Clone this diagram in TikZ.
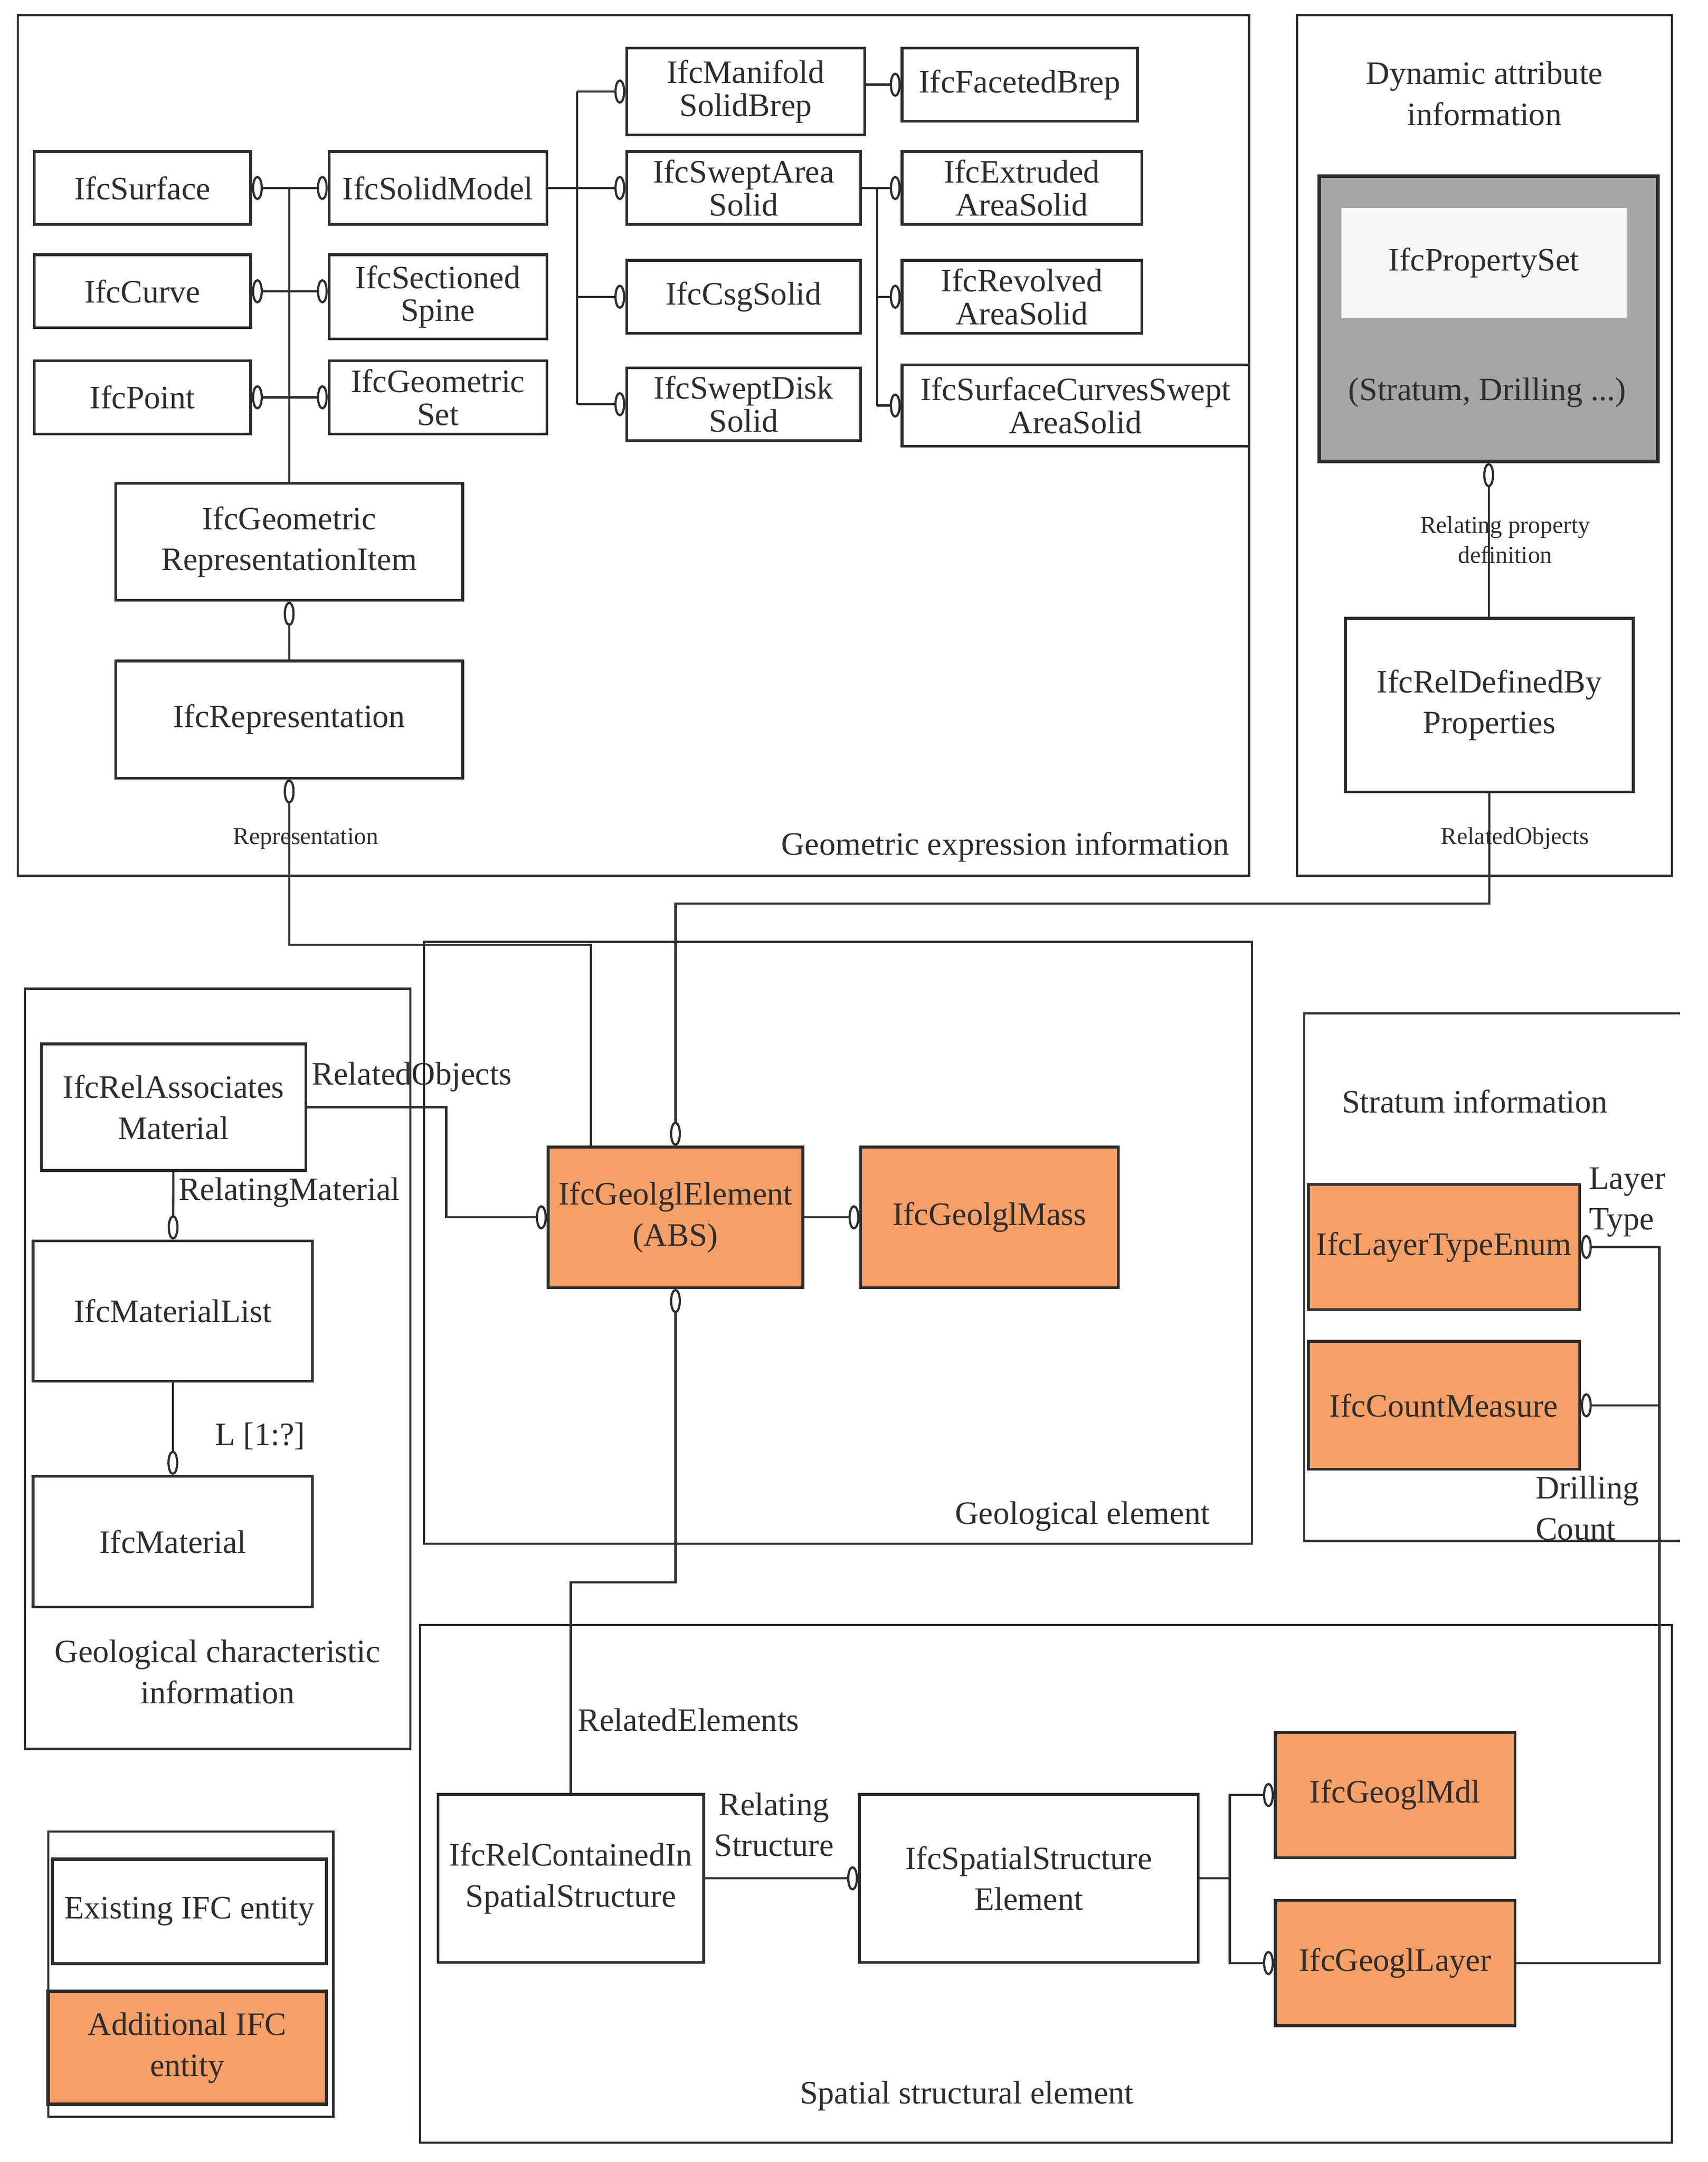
\documentclass[tikz,border=0pt]{standalone}
\usepackage{fontspec}
\setmainfont{Liberation Serif}
\usetikzlibrary{arrows.meta,calc,positioning}
\definecolor{addorange}{RGB}{246,160,104}
\definecolor{psgray}{RGB}{166,166,166}
\definecolor{ink}{RGB}{45,45,45}
\tikzset{
  omh/.tip={Ellipse[open,length=4.5pt,width=10pt]},
  omv/.tip={Ellipse[open,length=10pt,width=4.5pt]},
}
\begin{document}
\begin{tikzpicture}[x=0.02cm,y=-0.02cm,
  every node/.style={draw,align=center,inner sep=1pt,text=ink,font=\fontsize{13.5}{17}\selectfont},
  wh/.style 2 args={minimum width=#1*0.02cm,minimum height=#2*0.02cm},
  ent/.style={line width=1.1pt,draw=ink},
  add/.style={ent,fill=addorange},
  tight/.style={font=\fontsize{13.5}{13.6}\selectfont},
  grp/.style={line width=0.9pt,draw=ink},
  lnk/.style={line width=0.9pt,draw=ink},
  ttl/.style={draw=none},
  sml/.style={draw=none,font=\fontsize{10}{12.5}\selectfont}]
\useasboundingbox (0,0) rectangle (1240,1570);

% Geometric expression information
\draw[grp] (13,11) rectangle (907,636);
\node[ttl] (GeoTitle) at (730,615) {Geometric expression information};
\node[ent,wh={157}{53}] (IfcSurface) at (103.5,136.5) {IfcSurface};
\node[ent,wh={157}{53}] (IfcCurve) at (103.5,211.5) {IfcCurve};
\node[ent,wh={157}{53}] (IfcPoint) at (103.5,288.5) {IfcPoint};
\node[ent,wh={158}{53}] (IfcSolidModel) at (318,136.5) {IfcSolidModel};
\node[ent,tight,wh={158}{61}] (IfcSectionedSpine) at (318,215.5) {IfcSectioned\\Spine};
\node[ent,tight,wh={158}{53}] (IfcGeometricSet) at (318,288.5) {IfcGeometric\\Set};
\node[ent,wh={252}{85}] (IfcGeometricRepresentationItem) at (210,393.5) {IfcGeometric\\RepresentationItem};
\node[ent,wh={252}{85}] (IfcRepresentation) at (210,522.5) {IfcRepresentation};
\node[ent,tight,wh={173}{63}] (IfcManifoldSolidBrep) at (541.5,66.5) {IfcManifold\\SolidBrep};
\node[ent,wh={171}{53}] (IfcFacetedBrep) at (740.5,61.5) {IfcFacetedBrep};
\node[ent,tight,wh={170}{53}] (IfcSweptAreaSolid) at (540,136.5) {IfcSweptArea\\Solid};
\node[ent,wh={170}{53}] (IfcCsgSolid) at (540,215.5) {IfcCsgSolid};
\node[ent,tight,wh={170}{53}] (IfcSweptDiskSolid) at (540,293.5) {IfcSweptDisk\\Solid};
\node[ent,tight,wh={174}{53}] (IfcExtrudedAreaSolid) at (742,136.5) {IfcExtruded\\AreaSolid};
\node[ent,tight,wh={174}{53}] (IfcRevolvedAreaSolid) at (742,215.5) {IfcRevolved\\AreaSolid};
\node[ent,tight,wh={252}{59}] (IfcSurfaceCurvesSweptAreaSolid) at (781,294.5) {IfcSurfaceCurvesSwept\\AreaSolid};

% Dynamic attribute information
\draw[grp] (942,11) rectangle (1214,636);
\node[ttl] (DynTitle) at (1078,68) {Dynamic attribute\\information};
\node[ent,fill=psgray,line width=1.4pt,wh={246}{207}] (IfcPropertySet) at (1081,231.5) {};
\node[draw=none,fill=black!3,wh={207}{80}] (IfcPropertySetName) at (1077.5,191) {IfcPropertySet};
\node[ttl] (IfcPropertySetNote) at (1080,285) {(Stratum, Drilling ...)};
\node[ent,wh={209}{126}] (IfcRelDefinedByProperties) at (1081.5,512) {IfcRelDefinedBy\\Properties};

% Geological element
\draw[grp] (308,684) rectangle (909,1121);
\node[ttl] (GeolTitle) at (786,1101) {Geological element};
\node[add,wh={185}{102}] (IfcGeolglElement) at (490.5,884) {IfcGeolglElement\\(ABS)};
\node[add,wh={187}{102}] (IfcGeolglMass) at (718.5,884) {IfcGeolglMass};

% Geological characteristic information
\draw[grp] (18,718) rectangle (298,1270);
\node[ttl] (CharTitle) at (158,1214) {Geological characteristic\\information};
\node[ent,wh={192}{92}] (IfcRelAssociatesMaterial) at (126,804) {IfcRelAssociates\\Material};
\node[ent,wh={203}{102}] (IfcMaterialList) at (125.5,952) {IfcMaterialList};
\node[ent,wh={203}{95}] (IfcMaterial) at (125.5,1119.5) {IfcMaterial};

% Stratum information
\draw[grp] (1220,736) -- (947,736) -- (947,1119) -- (1220,1119);
\node[ttl] (StratumTitle) at (1071,800) {Stratum information};
\node[add,wh={197}{91}] (IfcLayerTypeEnum) at (1048.5,905.5) {IfcLayerTypeEnum};
\node[add,wh={197}{93}] (IfcCountMeasure) at (1048.5,1020.5) {IfcCountMeasure};

% Spatial structural element
\draw[grp] (305,1180) rectangle (1214,1556);
\node[ttl] (SpatialTitle) at (702,1522) {Spatial structural element};
\node[ent,wh={193}{122}] (IfcRelContainedInSpatialStructure) at (414.5,1364) {IfcRelContainedIn\\SpatialStructure};
\node[ent,wh={246}{122}] (IfcSpatialStructureElement) at (747,1364) {IfcSpatialStructure\\Element};
\node[add,wh={174}{91}] (IfcGeoglMdl) at (1013,1303.5) {IfcGeoglMdl};
\node[add,wh={174}{91}] (IfcGeoglLayer) at (1013,1425.5) {IfcGeoglLayer};

% legend
\draw[grp] (35,1330) rectangle (242,1537);
\node[ent,line width=1.4pt,wh={199}{76}] (ExistingEntity) at (137.5,1388) {Existing IFC entity};
\node[add,line width=1.4pt,wh={202}{82}] (AdditionalEntity) at (136,1487) {Additional IFC\\entity};

% links, geometry
\draw[lnk,omh-omh] (IfcSurface) -- (IfcSolidModel);
\draw[lnk,omh-omh] (IfcCurve.east) -- (IfcCurve.east -| IfcSectionedSpine.west);
\draw[lnk,omh-omh] (IfcPoint) -- (IfcGeometricSet);
\draw[lnk] (IfcGeometricRepresentationItem.north) -- (IfcGeometricRepresentationItem.north |- IfcSurface.east);
\draw[lnk] (IfcSolidModel.east) -- ++(21,0) coordinate (SolidFork);
\draw[lnk] (SolidFork |- IfcManifoldSolidBrep.west) -- (SolidFork |- IfcSweptDiskSolid.west);
\foreach \n in {IfcManifoldSolidBrep,IfcSweptAreaSolid,IfcCsgSolid,IfcSweptDiskSolid}
  \draw[lnk,-omh] (SolidFork |- \n.west) -- (\n.west);
\draw[lnk,-omh] (IfcManifoldSolidBrep.east |- IfcFacetedBrep.west) -- (IfcFacetedBrep.west);
\draw[lnk] (IfcSweptAreaSolid.east) -- ++(11,0) coordinate (SweptFork);
\draw[lnk] (SweptFork) -- (SweptFork |- IfcSurfaceCurvesSweptAreaSolid.west);
\foreach \n in {IfcExtrudedAreaSolid,IfcRevolvedAreaSolid,IfcSurfaceCurvesSweptAreaSolid}
  \draw[lnk,-omh] (SweptFork |- \n.west) -- (\n.west);
\draw[lnk,omv-] (IfcGeometricRepresentationItem) -- (IfcRepresentation);
\draw[lnk,omv-] (IfcRepresentation.south) |- ($(IfcGeolglElement.north west)+(32,-146)$) -- ($(IfcGeolglElement.north west)+(32,0)$);
\node[sml] (RepresentationLabel) at (222,609) {Representation};

% links, properties
\draw[lnk,omv-] (IfcPropertySet.south) -- (IfcPropertySet.south |- IfcRelDefinedByProperties.north);
\node[sml] (RelatingPropertyLabel) at (1093,392) {Relating property\\definition};
\draw[lnk,-omv] (IfcRelDefinedByProperties.south) |- ($(IfcGeolglElement.north)+(0,-176)$) -- (IfcGeolglElement.north);
\node[sml] (RelatedObjectsTopLabel) at (1100,609) {RelatedObjects};

% links, element and material
\draw[lnk,-omh] (IfcGeolglElement) -- (IfcGeolglMass);
\draw[lnk,-omh] (IfcRelAssociatesMaterial.east) -- ++(101,0) |- (IfcGeolglElement.west);
\node[ttl] (RelatedObjectsLabel) at (299,782) {RelatedObjects};
\draw[lnk,-omv] (IfcRelAssociatesMaterial) -- (IfcMaterialList);
\node[ttl] (RelatingMaterialLabel) at (210,866) {RelatingMaterial};
\draw[lnk,-omv] (IfcMaterialList) -- (IfcMaterial);
\node[ttl] (ListLabel) at (189,1043) {L [1:?]};

% links, spatial structure
\draw[lnk,omv-] (IfcGeolglElement.south) |- ($(IfcRelContainedInSpatialStructure.north)+(0,-153)$) -- (IfcRelContainedInSpatialStructure.north);
\node[ttl] (RelatedElementsLabel) at (500,1249) {RelatedElements};
\draw[lnk,-omh] (IfcRelContainedInSpatialStructure) -- (IfcSpatialStructureElement);
\node[ttl] (RelatingStructureLabel) at (562,1325) {Relating\\Structure};
\draw[lnk] (IfcSpatialStructureElement.east) -- ++(22,0) coordinate (SpatialFork);
\draw[lnk,-omh] (SpatialFork) |- (IfcGeoglMdl.west);
\draw[lnk,-omh] (SpatialFork) |- (IfcGeoglLayer.west);

% links, stratum
\draw[lnk,omh-] (IfcLayerTypeEnum.east) -| ($(IfcGeoglLayer.east)+(104,0)$) -- (IfcGeoglLayer.east);
\draw[lnk,omh-] (IfcCountMeasure.east) -- ++(57,0);
\node[ttl,anchor=west,align=left] (LayerTypeLabel) at (1152,873) {Layer\\Type};
\node[ttl,anchor=west,align=left] (DrillingCountLabel) at (1113,1095) {Drilling\\Count};
\end{tikzpicture}
\end{document}
